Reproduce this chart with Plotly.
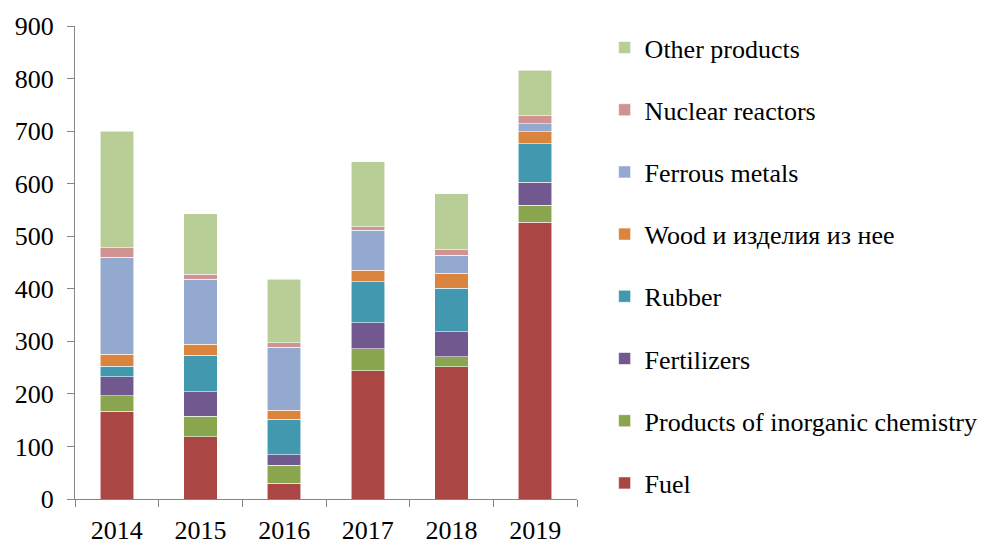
import plotly.graph_objects as go

years = ["2014", "2015", "2016", "2017", "2018", "2019"]

fuel = [167, 118, 30, 244, 252, 527]
inorganic = [29, 39, 34, 42, 19, 32]
fertilizers = [37, 47, 20, 49, 47, 44]
rubber = [20, 70, 68, 78, 83, 73]
wood = [22, 20, 17, 22, 29, 23]
ferrous = [185, 124, 120, 76, 34, 15]
nuclear = [18, 10, 8, 7, 10, 15]
other = [222, 115, 121, 124, 107, 87]

series_names = ["Fuel", "Products of inorganic chemistry", "Fertilizers", "Rubber",
                "Wood и изделия из нее", "Ferrous metals", "Nuclear reactors", "Other products"]
series_values = [fuel, inorganic, fertilizers, rubber, wood, ferrous, nuclear, other]
series_colors = ["#AA4643", "#89A54E", "#71588F", "#4198AF",
                 "#DB843D", "#93A9CF", "#D19392", "#B9CD96"]

y_ticks = [0, 100, 200, 300, 400, 500, 600, 700, 800, 900]

FONT = "Liberation Serif"

fig = go.Figure()
for i, (name, vals, col) in enumerate(zip(series_names, series_values, series_colors)):
    fig.add_trace(go.Bar(
        x=years, y=vals, name=name, legendgroup=name, legendrank=1000 - i,
        marker=dict(color=col, line=dict(color="rgba(255,255,255,0.7)", width=0.8)),
    ))

fig.update_layout(
    barmode="stack",
    bargap=0.6,
    width=983, height=539,
    margin=dict(l=75, r=406, t=26, b=40, autoexpand=False),
    paper_bgcolor="white", plot_bgcolor="white",
    font=dict(family=FONT, size=26, color="black"),
    showlegend=True,
    legend=dict(
        x=1.055, xanchor="left", y=1.004, yanchor="top",
        traceorder="grouped", tracegroupgap=25.4, maxheight=1,
        font=dict(family=FONT, size=26, color="black"),
        bgcolor="rgba(0,0,0,0)", itemwidth=30,
    ),
    xaxis=dict(
        showline=True, linecolor="#868686", linewidth=1,
        ticks="outside", tickson="boundaries", ticklen=7, tickcolor="#868686",
        tickfont=dict(family=FONT, size=26, color="black"),
        ticklabelstandoff=8,
        showgrid=False, automargin=False,
    ),
    yaxis=dict(
        range=[0, 900], tickvals=y_ticks,
        showline=True, linecolor="#868686", linewidth=1,
        ticks="outside", ticklen=7, tickcolor="#868686",
        tickfont=dict(family=FONT, size=26, color="black"),
        ticklabelstandoff=8,
        showgrid=False, zeroline=False, automargin=False,
    ),
)

fig.write_html(
    "out.html",
    config={"displayModeBar": False},
    post_script="document.body.style.margin='0';document.body.style.overflow='hidden';",
)
